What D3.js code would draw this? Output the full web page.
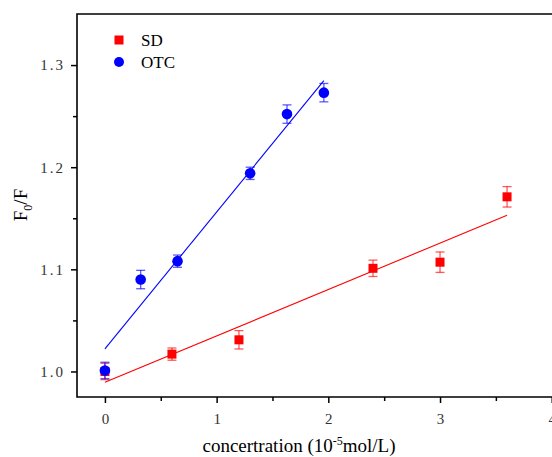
<!DOCTYPE html>
<html>
<head>
<meta charset="utf-8">
<script src="https://cdn.jsdelivr.net/npm/d3@7"></script>
<style>
  body { margin: 0; background: #fff; }
  svg { display: block; font-family: "Liberation Serif", "DejaVu Serif", serif; }
</style>
</head>
<body>
<div id="chart"></div>
<script>
// data
var sdX   = [0, 0.6, 1.2, 2.4, 3.0, 3.6];
var sdY   = [1.000, 1.017, 1.031, 1.101, 1.107, 1.171];
var sdErr = [0.008, 0.006, 0.009, 0.008, 0.010, 0.010];

var otcX   = [0, 0.32, 0.65, 1.30, 1.63, 1.96];
var otcY   = [1.001, 1.090, 1.108, 1.194, 1.252, 1.273];
var otcErr = [0.008, 0.009, 0.006, 0.006, 0.009, 0.009];

var xTicks = [0, 1, 2, 3, 4];
var yTicks = [1.0, 1.1, 1.2, 1.3];

var WIDTH  = 552,
    HEIGHT = 457,
    LEFT   = 77,
    TOP    = 14,
    BOTTOM = 397;

var x = d3.scaleLinear().domain([-0.25, 4.25]).range([LEFT, LEFT + 4.5 * 111.7]);
var y = d3.scaleLinear().domain([0.975, 1.35]).range([BOTTOM, TOP]);

var svg = d3.select('#chart').append('svg')
    .attr('width', WIDTH)
    .attr('height', HEIGHT);

function zip(xs, ys, es) {
    return xs.map(function(v, i){ return {x: v, y: ys[i], e: es[i]}; });
}

// least squares fit, like the origin linear fit
function fit(xs, ys) {
    var mx = d3.mean(xs), my = d3.mean(ys), sxy = 0, sxx = 0;
    xs.forEach(function(v, i){ sxy += (v - mx) * (ys[i] - my); sxx += (v - mx) * (v - mx); });
    var b = sxy / sxx;
    return function(v){ return my + b * (v - mx); };
}

var series = [
    {name: 'SD',  color: '#ff0000', shape: 'square', pts: zip(sdX, sdY, sdErr),   f: fit(sdX, sdY),   ext: d3.extent(sdX)},
    {name: 'OTC', color: '#0000ff', shape: 'circle', pts: zip(otcX, otcY, otcErr), f: fit(otcX, otcY), ext: d3.extent(otcX)}
];

// fit lines
series.forEach(function(s){
    svg.append('line')
        .attr('x1', x(s.ext[0])).attr('y1', y(s.f(s.ext[0])))
        .attr('x2', x(s.ext[1])).attr('y2', y(s.f(s.ext[1])))
        .attr('stroke', s.color)
        .attr('stroke-width', 1.1);
});

// points with error bars
series.forEach(function(s){
    var g = svg.append('g');
    var eb = g.selectAll('g.eb').data(s.pts).enter().append('g')
        .attr('stroke', s.color)
        .attr('stroke-opacity', 0.65)
        .attr('stroke-width', 1.3);
    eb.append('line')
        .attr('x1', function(d){ return x(d.x); }).attr('x2', function(d){ return x(d.x); })
        .attr('y1', function(d){ return y(d.y + d.e); }).attr('y2', function(d){ return y(d.y - d.e); });
    eb.append('line')
        .attr('x1', function(d){ return x(d.x) - 4.5; }).attr('x2', function(d){ return x(d.x) + 4.5; })
        .attr('y1', function(d){ return y(d.y + d.e); }).attr('y2', function(d){ return y(d.y + d.e); });
    eb.append('line')
        .attr('x1', function(d){ return x(d.x) - 4.5; }).attr('x2', function(d){ return x(d.x) + 4.5; })
        .attr('y1', function(d){ return y(d.y - d.e); }).attr('y2', function(d){ return y(d.y - d.e); });

    if (s.shape === 'square') {
        g.selectAll('rect').data(s.pts).enter().append('rect')
            .attr('x', function(d){ return x(d.x) - 4.5; })
            .attr('y', function(d){ return y(d.y) - 4.5; })
            .attr('width', 9).attr('height', 9)
            .attr('fill', s.color);
    } else {
        g.selectAll('circle').data(s.pts).enter().append('circle')
            .attr('cx', function(d){ return x(d.x); })
            .attr('cy', function(d){ return y(d.y); })
            .attr('r', 5.3)
            .attr('fill', s.color);
    }
});

// axes
var xAxis = svg.append('g').attr('transform', 'translate(0,' + BOTTOM + ')')
    .call(d3.axisBottom(x).tickValues(xTicks).tickSize(6).tickPadding(10).tickFormat(d3.format('d')));
var xMinor = svg.append('g').attr('transform', 'translate(0,' + BOTTOM + ')')
    .call(d3.axisBottom(x).tickValues([0.5, 1.5, 2.5, 3.5]).tickSize(4).tickFormat(''));

var yAxis = svg.append('g').attr('transform', 'translate(' + LEFT + ',0)')
    .call(d3.axisLeft(y).tickValues(yTicks).tickSize(6).tickPadding(6).tickFormat(d3.format('.1f')));
var yMinor = svg.append('g').attr('transform', 'translate(' + LEFT + ',0)')
    .call(d3.axisLeft(y).tickValues([1.05, 1.15, 1.25]).tickSize(4).tickFormat(''));

[xAxis, xMinor, yAxis, yMinor].forEach(function(a){
    a.attr('font-family', '"Liberation Serif", serif').attr('font-size', 15);
    a.select('.domain').remove();
    a.selectAll('line').attr('stroke', '#000').attr('stroke-width', 1.5);
    a.selectAll('text').attr('fill', '#333');
});
yAxis.selectAll('text').style('letter-spacing', '2px');

// frame lines (left, bottom, top)
svg.append('path')
    .attr('d', 'M' + WIDTH + ',' + TOP + 'H' + LEFT + 'V' + BOTTOM + 'H' + WIDTH)
    .attr('fill', 'none')
    .attr('stroke', '#000')
    .attr('stroke-width', 1.6);

// legend
var legend = svg.append('g');
series.forEach(function(s, i){
    var ly = 40 + i * 22;
    if (s.shape === 'square') {
        legend.append('rect').attr('x', 114.5).attr('y', ly - 4.5).attr('width', 9).attr('height', 9).attr('fill', s.color);
    } else {
        legend.append('circle').attr('cx', 119).attr('cy', ly).attr('r', 5).attr('fill', s.color);
    }
    legend.append('text')
        .attr('x', 141).attr('y', ly + 6)
        .style('font-size', '17px')
        .text(s.name);
});

// axis titles
var xt = svg.append('text')
    .attr('x', 299).attr('y', 452)
    .attr('text-anchor', 'middle')
    .style('font-size', '19px');
xt.append('tspan').text('concertration (10');
xt.append('tspan').attr('dy', -7).style('font-size', '12px').text('-5');
xt.append('tspan').attr('dy', 7).text('mol/L)');

var yt = svg.append('text')
    .attr('transform', 'translate(27,205) rotate(-90)')
    .attr('text-anchor', 'middle')
    .style('font-size', '19px');
yt.append('tspan').text('F');
yt.append('tspan').attr('dy', 5).style('font-size', '12px').text('0');
yt.append('tspan').attr('dy', -5).text('/F');
</script>
</body>
</html>
